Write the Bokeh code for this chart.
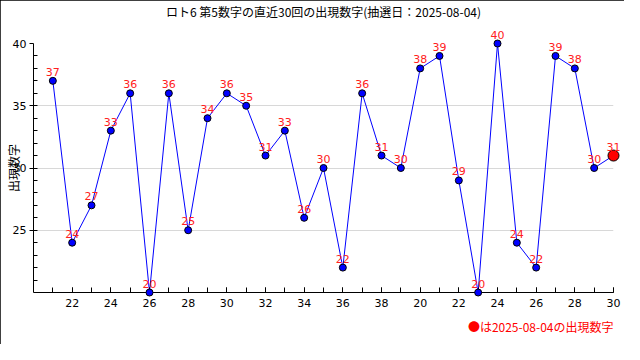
from bokeh.plotting import figure
from bokeh.models import ColumnDataSource, Range1d, FixedTicker, Title
from bokeh.core.properties import value
from bokeh.embed import file_html
from bokeh.resources import INLINE

# ---- data ----
draw_index = list(range(21, 51))
numbers = [37, 24, 27, 33, 36, 20, 36, 25, 34, 36, 35, 31, 33, 26, 30,
           22, 36, 31, 30, 38, 39, 29, 20, 40, 24, 22, 39, 38, 30, 31]
x_ticks = [22, 24, 26, 28, 30, 32, 34, 36, 38, 40, 42, 44, 46, 48, 50]
x_tick_labels = ["22", "24", "26", "28", "30", "32", "34", "36", "38",
                 "20", "22", "24", "26", "28", "30"]
y_ticks = [25, 30, 35, 40]
title_text = "ロト6 第5数字の直近30回の出現数字(抽選日：2025-08-04)"
y_label_text = "出現数字"
note_text = "●は2025-08-04の出現数字"

JP = "Noto Sans CJK JP"
NUM = "DejaVu Sans"

p = figure(width=624, height=344, output_backend="svg", toolbar_location=None,
           x_range=Range1d(20, 50), y_range=Range1d(20, 40),
           min_border_left=33, min_border_right=11, min_border_top=43,
           min_border_bottom=52)
p.outline_line_color = None
p.background_fill_color = "white"
p.border_fill_color = "white"
p.styles = {"outline": "1px solid black", "outline-offset": "-1px"}

# spacer between title and frame (title sits above it)
p.add_layout(Title(text=" ", text_font_size="12px", standoff=8), "above")

# title
p.title.text = title_text
p.title.align = "center"
p.title.text_font = JP
p.title.text_font_size = "12px"
p.title.text_font_style = "normal"
p.title.text_color = "black"
p.title.standoff = 0

src = ColumnDataSource(dict(x=draw_index, y=numbers, t=[str(n) for n in numbers]))
last = ColumnDataSource(dict(x=draw_index[-1:], y=numbers[-1:]))

p.line("x", "y", source=src, line_color="#0000ff", line_width=1)
r1 = p.scatter("x", "y", source=src, size=7, fill_color="#0000ff",
               line_color="black", line_width=1)
r2 = p.scatter("x", "y", source=last, size=11, fill_color="#ff0000",
               line_color="black", line_width=1)
r3 = p.text("x", "y", text="t", source=src, text_color="#ff2020",
            text_font=value(NUM), text_font_size="11px",
            text_align="center", text_baseline="bottom", y_offset=-5)
for r in (r1, r2, r3):
    r.level = "overlay"

# axes
xa = p.xaxis[0]
xa.ticker = FixedTicker(ticks=x_ticks, minor_ticks=draw_index)
xa.major_label_overrides = {t: l for t, l in zip(x_ticks, x_tick_labels)}
ya = p.yaxis[0]
ya.ticker = FixedTicker(ticks=y_ticks, minor_ticks=list(range(21, 40)))
for ax in (xa, ya):
    ax.axis_line_color = "black"
    ax.major_tick_line_color = "black"
    ax.minor_tick_line_color = "black"
    ax.major_label_text_font = NUM
    ax.major_label_text_font_size = "11px"
    ax.major_label_text_color = "black"
xa.major_tick_in = 5
xa.major_tick_out = 0
xa.minor_tick_in = 5
xa.minor_tick_out = 0
xa.major_label_standoff = 6
ya.major_tick_in = 0
ya.major_tick_out = 4
ya.minor_tick_in = 4
ya.minor_tick_out = 0
ya.major_label_standoff = 3
ya.axis_label = y_label_text
ya.axis_label_text_font = JP
ya.axis_label_text_font_size = "12px"
ya.axis_label_text_font_style = "normal"
ya.axis_label_text_color = "black"
ya.axis_label_standoff = -12

p.xgrid.grid_line_color = None
p.ygrid.grid_line_color = "#d8d8d8"
p.ygrid.ticker = FixedTicker(ticks=y_ticks)

note = Title(text=note_text, align="right", text_font=JP, text_font_size="12px",
             text_font_style="normal", text_color="#ff0000", standoff=12)
p.add_layout(note, "below")

open("out.html", "w").write(file_html(p, INLINE))
